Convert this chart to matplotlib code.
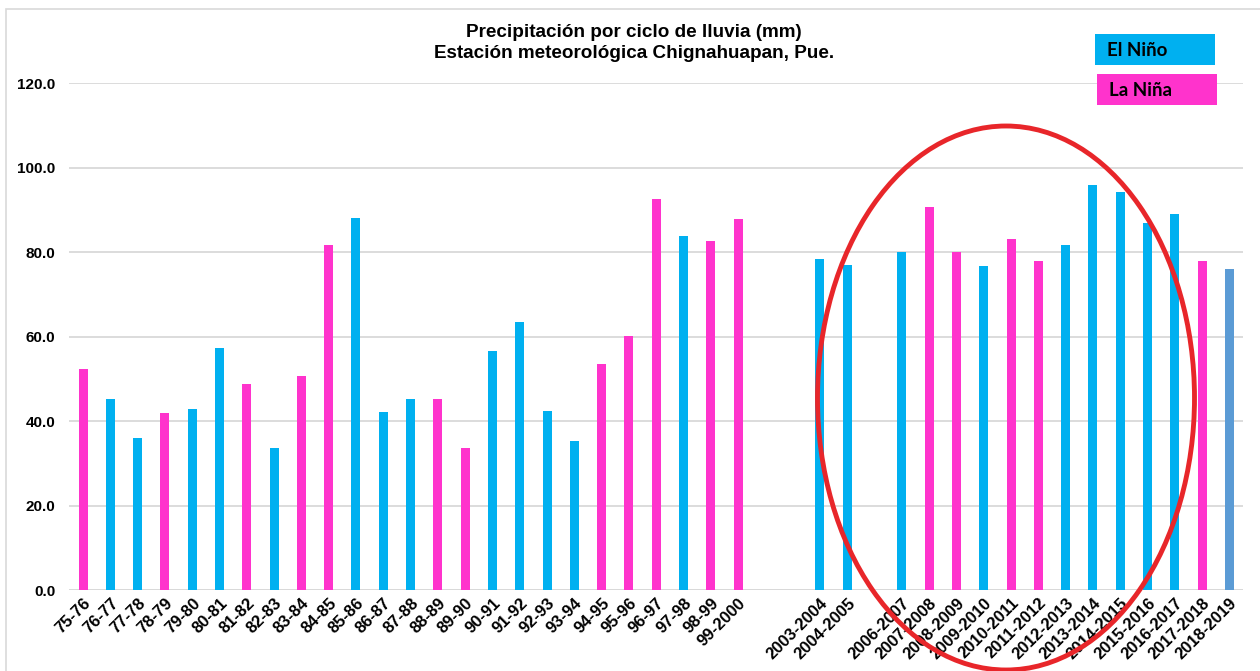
import matplotlib.pyplot as plt
import numpy as np
from matplotlib.patches import Ellipse, Rectangle

plt.rcParams['font.family'] = ['Liberation Sans', 'DejaVu Sans']

# Ciclos de lluvia (espacios vacios donde no hay dato)
labels = ["75-76", "76-77", "77-78", "78-79", "79-80", "80-81", "81-82", "82-83",
          "83-84", "84-85", "85-86", "86-87", "87-88", "88-89", "89-90", "90-91",
          "91-92", "92-93", "93-94", "94-95", "95-96", "96-97", "97-98", "98-99",
          "99-2000", "", "", "2003-2004", "2004-2005", "", "2006-2007", "2007-2008",
          "2008-2009", "2009-2010", "2010-2011", "2011-2012", "2012-2013",
          "2013-2014", "2014-2015", "2015-2016", "2016-2017", "2017-2018", "2018-2019"]

precip = [52.4, 45.1, 36.0, 42.0, 42.8, 57.3, 48.7, 33.6, 50.6, 81.6, 88.0, 42.2,
          45.1, 45.1, 33.5, 56.6, 63.4, 42.4, 35.3, 53.5, 60.1, 92.5, 83.8, 82.6,
          87.8, np.nan, np.nan, 78.3, 76.9, np.nan, 80.1, 90.7, 80.1, 76.6, 83.1,
          77.9, 81.6, 95.9, 94.2, 86.9, 88.9, 77.9, 76.0]

# N = El Niño, A = La Niña, S = sin clasificar
fase = list("ANNANNANAANNNAANNNNAAANAA") + ["", ""] + ["N", "N", ""] + \
       list("NAANAANNNNNA") + ["S"]

colores = {"N": "#00B0F0", "A": "#FF33CC", "S": "#5B9BD5", "": "none"}

fig = plt.figure(figsize=(12.6, 6.71), dpi=100)
ax = fig.add_axes([0.0551, 0.1207, 0.9314, 0.7556])

x = np.arange(len(labels))
ax.bar(x, precip, width=0.33, color=[colores[f] for f in fase], zorder=3)

ax.set_xlim(-0.5, len(labels) - 0.5)
ax.set_ylim(0, 120)
ax.set_yticks(np.arange(0, 121, 20))
ax.set_yticklabels(["%.1f" % v for v in np.arange(0, 121, 20)],
                   fontsize=11, fontweight='bold')
ax.set_xticks(x)
ax.set_xticklabels(labels, rotation=45, ha='right', rotation_mode='anchor',
                   fontsize=12, fontweight='bold')
ax.tick_params(axis='both', length=0)
ax.tick_params(axis='y', pad=10)
ax.tick_params(axis='x', pad=4)
ax.grid(axis='y', color='#D9D9D9', linewidth=1.3, zorder=0)
for s in ax.spines.values():
    s.set_visible(False)
ax.axhline(0, color='#D9D9D9', linewidth=1.3, zorder=1)

fig.text(0.503, 0.952, "Precipitación por ciclo de lluvia (mm)", ha='center',
         va='center', fontsize=13.6, fontweight='bold')
fig.text(0.503, 0.921, "Estación meteorológica Chignahuapan, Pue.", ha='center',
         va='center', fontsize=13.6, fontweight='bold')

# cajas de leyenda
for (x0, y0, txt, col) in [(1095, 34, "El Niño", "#00B0F0"),
                           (1097, 74, "La Niña", "#FF33CC")]:
    fig.patches.append(Rectangle((x0 / 1260, 1 - (y0 + 31) / 671), 120 / 1260,
                                 31 / 671, transform=fig.transFigure,
                                 facecolor=col, edgecolor='none'))
    fig.text((x0 + 12) / 1260, 1 - (y0 + 16) / 671, txt, ha='left', va='center',
             fontsize=13.5, fontweight='bold', family=['Lato', 'DejaVu Sans'])

# marco
fig.patches.append(Rectangle((6 / 1260, -0.1), 1.2, 1.1 - 9 / 671,
                             transform=fig.transFigure, facecolor='none',
                             edgecolor='#D9D9D9', linewidth=1.2))

# elipse roja
fig.patches.append(Ellipse((1006 / 1260, 1 - 398 / 671), 377 / 1260, 544 / 671,
                           transform=fig.transFigure, facecolor='none',
                           edgecolor='#E8262A', linewidth=3.5, zorder=10))

fig.savefig("out.png", dpi=100)
